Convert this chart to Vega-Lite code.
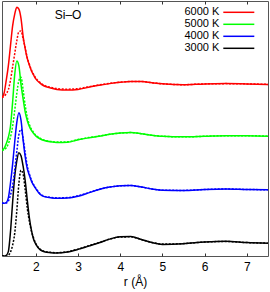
{
"$schema":"https://vega.github.io/schema/vega-lite/v6.json",
"width":266,"height":255,
"autosize":{"type":"none"},
"padding":{"left":2,"top":1,"right":2,"bottom":36},
"config":{"view":{"stroke":"#555","strokeWidth":1},"font":"Liberation Sans",
"axis":{"labelFont":"Liberation Sans","titleFont":"Liberation Sans","labelFontSize":12,"titleFontSize":12,"titleFontWeight":"normal","labelColor":"#000","titleColor":"#000","tickColor":"#333","tickWidth":1,"domain":false,"grid":false}},
"data":{"values":[
{"T":"3000 K","set":"A","r":1.2,"y":0},{"T":"3000 K","set":"A","r":1.25,"y":0},{"T":"3000 K","set":"A","r":1.3,"y":0.05},{"T":"3000 K","set":"A","r":1.35,"y":0.33},{"T":"3000 K","set":"A","r":1.4,"y":1.8},{"T":"3000 K","set":"A","r":1.45,"y":4.0},{"T":"3000 K","set":"A","r":1.5,"y":6.0},{"T":"3000 K","set":"A","r":1.55,"y":7.2},{"T":"3000 K","set":"A","r":1.6,"y":7.83},{"T":"3000 K","set":"A","r":1.65,"y":7.6},{"T":"3000 K","set":"A","r":1.7,"y":6.8},{"T":"3000 K","set":"A","r":1.75,"y":5.7},{"T":"3000 K","set":"A","r":1.8,"y":4.2},{"T":"3000 K","set":"A","r":1.85,"y":2.85},{"T":"3000 K","set":"A","r":1.9,"y":1.9},{"T":"3000 K","set":"A","r":1.95,"y":1.25},{"T":"3000 K","set":"A","r":2.0,"y":0.9},{"T":"3000 K","set":"A","r":2.1,"y":0.48},{"T":"3000 K","set":"A","r":2.2,"y":0.32},{"T":"3000 K","set":"A","r":2.35,"y":0.25},{"T":"3000 K","set":"A","r":2.5,"y":0.22},{"T":"3000 K","set":"A","r":2.75,"y":0.3},{"T":"3000 K","set":"A","r":3.0,"y":0.5},{"T":"3000 K","set":"A","r":3.25,"y":0.75},{"T":"3000 K","set":"A","r":3.5,"y":1.0},{"T":"3000 K","set":"A","r":3.75,"y":1.28},{"T":"3000 K","set":"A","r":4.0,"y":1.46},{"T":"3000 K","set":"A","r":4.25,"y":1.48},{"T":"3000 K","set":"A","r":4.5,"y":1.25},{"T":"3000 K","set":"A","r":4.75,"y":1.02},{"T":"3000 K","set":"A","r":5.0,"y":0.88},{"T":"3000 K","set":"A","r":5.5,"y":0.93},{"T":"3000 K","set":"A","r":6.0,"y":1.06},{"T":"3000 K","set":"A","r":6.5,"y":1.12},{"T":"3000 K","set":"A","r":7.0,"y":1.02},{"T":"3000 K","set":"A","r":7.5,"y":0.96},
{"T":"3000 K","set":"B","r":1.2,"y":0},{"T":"3000 K","set":"B","r":1.25,"y":0},{"T":"3000 K","set":"B","r":1.3,"y":0},{"T":"3000 K","set":"B","r":1.35,"y":0.05},{"T":"3000 K","set":"B","r":1.4,"y":0.3},{"T":"3000 K","set":"B","r":1.45,"y":0.8},{"T":"3000 K","set":"B","r":1.5,"y":1.7},{"T":"3000 K","set":"B","r":1.55,"y":3.4},{"T":"3000 K","set":"B","r":1.6,"y":5.5},{"T":"3000 K","set":"B","r":1.65,"y":6.5},{"T":"3000 K","set":"B","r":1.7,"y":6.2},{"T":"3000 K","set":"B","r":1.75,"y":5.0},{"T":"3000 K","set":"B","r":1.8,"y":3.6},{"T":"3000 K","set":"B","r":1.85,"y":2.6},{"T":"3000 K","set":"B","r":1.9,"y":1.85},{"T":"3000 K","set":"B","r":1.95,"y":1.35},{"T":"3000 K","set":"B","r":2.0,"y":0.95},{"T":"3000 K","set":"B","r":2.1,"y":0.52},{"T":"3000 K","set":"B","r":2.2,"y":0.35},{"T":"3000 K","set":"B","r":2.35,"y":0.28},{"T":"3000 K","set":"B","r":2.5,"y":0.25},{"T":"3000 K","set":"B","r":2.75,"y":0.33},{"T":"3000 K","set":"B","r":3.0,"y":0.52},{"T":"3000 K","set":"B","r":3.25,"y":0.77},{"T":"3000 K","set":"B","r":3.5,"y":1.02},{"T":"3000 K","set":"B","r":3.75,"y":1.28},{"T":"3000 K","set":"B","r":4.0,"y":1.44},{"T":"3000 K","set":"B","r":4.25,"y":1.45},{"T":"3000 K","set":"B","r":4.5,"y":1.25},{"T":"3000 K","set":"B","r":4.75,"y":1.03},{"T":"3000 K","set":"B","r":5.0,"y":0.9},{"T":"3000 K","set":"B","r":5.5,"y":0.94},{"T":"3000 K","set":"B","r":6.0,"y":1.06},{"T":"3000 K","set":"B","r":6.5,"y":1.1},{"T":"3000 K","set":"B","r":7.0,"y":1.02},{"T":"3000 K","set":"B","r":7.5,"y":0.97},
{"T":"4000 K","set":"A","r":1.2,"y":4},{"T":"4000 K","set":"A","r":1.25,"y":4},{"T":"4000 K","set":"A","r":1.3,"y":4.05},{"T":"4000 K","set":"A","r":1.35,"y":4.4},{"T":"4000 K","set":"A","r":1.4,"y":5.5},{"T":"4000 K","set":"A","r":1.45,"y":6.9},{"T":"4000 K","set":"A","r":1.5,"y":8.6},{"T":"4000 K","set":"A","r":1.55,"y":10.1},{"T":"4000 K","set":"A","r":1.6,"y":10.85},{"T":"4000 K","set":"A","r":1.65,"y":10.3},{"T":"4000 K","set":"A","r":1.7,"y":8.8},{"T":"4000 K","set":"A","r":1.75,"y":7.5},{"T":"4000 K","set":"A","r":1.8,"y":6.6},{"T":"4000 K","set":"A","r":1.85,"y":6.1},{"T":"4000 K","set":"A","r":1.9,"y":5.65},{"T":"4000 K","set":"A","r":1.95,"y":5.35},{"T":"4000 K","set":"A","r":2.0,"y":5.1},{"T":"4000 K","set":"A","r":2.1,"y":4.68},{"T":"4000 K","set":"A","r":2.2,"y":4.5},{"T":"4000 K","set":"A","r":2.35,"y":4.42},{"T":"4000 K","set":"A","r":2.5,"y":4.38},{"T":"4000 K","set":"A","r":2.75,"y":4.4},{"T":"4000 K","set":"A","r":3.0,"y":4.53},{"T":"4000 K","set":"A","r":3.25,"y":4.78},{"T":"4000 K","set":"A","r":3.5,"y":5.04},{"T":"4000 K","set":"A","r":3.75,"y":5.22},{"T":"4000 K","set":"A","r":4.0,"y":5.33},{"T":"4000 K","set":"A","r":4.25,"y":5.35},{"T":"4000 K","set":"A","r":4.5,"y":5.23},{"T":"4000 K","set":"A","r":4.75,"y":5.08},{"T":"4000 K","set":"A","r":5.0,"y":4.98},{"T":"4000 K","set":"A","r":5.5,"y":4.96},{"T":"4000 K","set":"A","r":6.0,"y":5.04},{"T":"4000 K","set":"A","r":6.5,"y":5.08},{"T":"4000 K","set":"A","r":7.0,"y":5.04},{"T":"4000 K","set":"A","r":7.5,"y":5.02},
{"T":"4000 K","set":"B","r":1.2,"y":4},{"T":"4000 K","set":"B","r":1.25,"y":4},{"T":"4000 K","set":"B","r":1.3,"y":4.02},{"T":"4000 K","set":"B","r":1.35,"y":4.15},{"T":"4000 K","set":"B","r":1.4,"y":4.6},{"T":"4000 K","set":"B","r":1.45,"y":5.3},{"T":"4000 K","set":"B","r":1.5,"y":6.5},{"T":"4000 K","set":"B","r":1.55,"y":7.9},{"T":"4000 K","set":"B","r":1.6,"y":9.2},{"T":"4000 K","set":"B","r":1.65,"y":9.6},{"T":"4000 K","set":"B","r":1.7,"y":8.9},{"T":"4000 K","set":"B","r":1.75,"y":7.8},{"T":"4000 K","set":"B","r":1.8,"y":6.8},{"T":"4000 K","set":"B","r":1.85,"y":6.2},{"T":"4000 K","set":"B","r":1.9,"y":5.72},{"T":"4000 K","set":"B","r":1.95,"y":5.4},{"T":"4000 K","set":"B","r":2.0,"y":5.14},{"T":"4000 K","set":"B","r":2.1,"y":4.72},{"T":"4000 K","set":"B","r":2.2,"y":4.53},{"T":"4000 K","set":"B","r":2.35,"y":4.44},{"T":"4000 K","set":"B","r":2.5,"y":4.4},{"T":"4000 K","set":"B","r":2.75,"y":4.43},{"T":"4000 K","set":"B","r":3.0,"y":4.56},{"T":"4000 K","set":"B","r":3.25,"y":4.8},{"T":"4000 K","set":"B","r":3.5,"y":5.05},{"T":"4000 K","set":"B","r":3.75,"y":5.22},{"T":"4000 K","set":"B","r":4.0,"y":5.32},{"T":"4000 K","set":"B","r":4.25,"y":5.34},{"T":"4000 K","set":"B","r":4.5,"y":5.23},{"T":"4000 K","set":"B","r":4.75,"y":5.08},{"T":"4000 K","set":"B","r":5.0,"y":4.99},{"T":"4000 K","set":"B","r":5.5,"y":4.97},{"T":"4000 K","set":"B","r":6.0,"y":5.04},{"T":"4000 K","set":"B","r":6.5,"y":5.08},{"T":"4000 K","set":"B","r":7.0,"y":5.04},{"T":"4000 K","set":"B","r":7.5,"y":5.02},
{"T":"5000 K","set":"A","r":1.2,"y":8},{"T":"5000 K","set":"A","r":1.25,"y":8.15},{"T":"5000 K","set":"A","r":1.3,"y":8.5},{"T":"5000 K","set":"A","r":1.35,"y":9.0},{"T":"5000 K","set":"A","r":1.4,"y":9.8},{"T":"5000 K","set":"A","r":1.45,"y":11.6},{"T":"5000 K","set":"A","r":1.5,"y":13.7},{"T":"5000 K","set":"A","r":1.55,"y":14.77},{"T":"5000 K","set":"A","r":1.6,"y":14.4},{"T":"5000 K","set":"A","r":1.65,"y":13.0},{"T":"5000 K","set":"A","r":1.7,"y":11.9},{"T":"5000 K","set":"A","r":1.75,"y":10.9},{"T":"5000 K","set":"A","r":1.8,"y":10.25},{"T":"5000 K","set":"A","r":1.85,"y":9.8},{"T":"5000 K","set":"A","r":1.9,"y":9.5},{"T":"5000 K","set":"A","r":1.95,"y":9.28},{"T":"5000 K","set":"A","r":2.0,"y":9.1},{"T":"5000 K","set":"A","r":2.1,"y":8.88},{"T":"5000 K","set":"A","r":2.2,"y":8.75},{"T":"5000 K","set":"A","r":2.35,"y":8.65},{"T":"5000 K","set":"A","r":2.5,"y":8.6},{"T":"5000 K","set":"A","r":2.75,"y":8.62},{"T":"5000 K","set":"A","r":3.0,"y":8.8},{"T":"5000 K","set":"A","r":3.25,"y":8.95},{"T":"5000 K","set":"A","r":3.5,"y":9.08},{"T":"5000 K","set":"A","r":3.75,"y":9.22},{"T":"5000 K","set":"A","r":4.0,"y":9.32},{"T":"5000 K","set":"A","r":4.25,"y":9.36},{"T":"5000 K","set":"A","r":4.5,"y":9.27},{"T":"5000 K","set":"A","r":4.75,"y":9.15},{"T":"5000 K","set":"A","r":5.0,"y":9.07},{"T":"5000 K","set":"A","r":5.5,"y":9.03},{"T":"5000 K","set":"A","r":6.0,"y":9.07},{"T":"5000 K","set":"A","r":6.5,"y":9.12},{"T":"5000 K","set":"A","r":7.0,"y":9.12},{"T":"5000 K","set":"A","r":7.5,"y":9.08},
{"T":"5000 K","set":"B","r":1.2,"y":8},{"T":"5000 K","set":"B","r":1.25,"y":8.05},{"T":"5000 K","set":"B","r":1.3,"y":8.2},{"T":"5000 K","set":"B","r":1.35,"y":8.5},{"T":"5000 K","set":"B","r":1.4,"y":9.0},{"T":"5000 K","set":"B","r":1.45,"y":9.8},{"T":"5000 K","set":"B","r":1.5,"y":11.0},{"T":"5000 K","set":"B","r":1.55,"y":12.3},{"T":"5000 K","set":"B","r":1.6,"y":13.3},{"T":"5000 K","set":"B","r":1.65,"y":13.55},{"T":"5000 K","set":"B","r":1.7,"y":12.6},{"T":"5000 K","set":"B","r":1.75,"y":11.4},{"T":"5000 K","set":"B","r":1.8,"y":10.5},{"T":"5000 K","set":"B","r":1.85,"y":9.95},{"T":"5000 K","set":"B","r":1.9,"y":9.6},{"T":"5000 K","set":"B","r":1.95,"y":9.35},{"T":"5000 K","set":"B","r":2.0,"y":9.15},{"T":"5000 K","set":"B","r":2.1,"y":8.93},{"T":"5000 K","set":"B","r":2.2,"y":8.78},{"T":"5000 K","set":"B","r":2.35,"y":8.68},{"T":"5000 K","set":"B","r":2.5,"y":8.63},{"T":"5000 K","set":"B","r":2.75,"y":8.65},{"T":"5000 K","set":"B","r":3.0,"y":8.82},{"T":"5000 K","set":"B","r":3.25,"y":8.97},{"T":"5000 K","set":"B","r":3.5,"y":9.09},{"T":"5000 K","set":"B","r":3.75,"y":9.22},{"T":"5000 K","set":"B","r":4.0,"y":9.31},{"T":"5000 K","set":"B","r":4.25,"y":9.35},{"T":"5000 K","set":"B","r":4.5,"y":9.27},{"T":"5000 K","set":"B","r":4.75,"y":9.15},{"T":"5000 K","set":"B","r":5.0,"y":9.07},{"T":"5000 K","set":"B","r":5.5,"y":9.03},{"T":"5000 K","set":"B","r":6.0,"y":9.07},{"T":"5000 K","set":"B","r":6.5,"y":9.12},{"T":"5000 K","set":"B","r":7.0,"y":9.12},{"T":"5000 K","set":"B","r":7.5,"y":9.08},
{"T":"6000 K","set":"A","r":1.2,"y":12},{"T":"6000 K","set":"A","r":1.25,"y":12.35},{"T":"6000 K","set":"A","r":1.3,"y":13.3},{"T":"6000 K","set":"A","r":1.35,"y":14.4},{"T":"6000 K","set":"A","r":1.4,"y":15.9},{"T":"6000 K","set":"A","r":1.45,"y":17.4},{"T":"6000 K","set":"A","r":1.5,"y":18.3},{"T":"6000 K","set":"A","r":1.55,"y":18.85},{"T":"6000 K","set":"A","r":1.6,"y":18.7},{"T":"6000 K","set":"A","r":1.65,"y":18.0},{"T":"6000 K","set":"A","r":1.7,"y":16.65},{"T":"6000 K","set":"A","r":1.75,"y":15.7},{"T":"6000 K","set":"A","r":1.8,"y":14.95},{"T":"6000 K","set":"A","r":1.85,"y":14.45},{"T":"6000 K","set":"A","r":1.9,"y":14.0},{"T":"6000 K","set":"A","r":1.95,"y":13.7},{"T":"6000 K","set":"A","r":2.0,"y":13.42},{"T":"6000 K","set":"A","r":2.1,"y":13.1},{"T":"6000 K","set":"A","r":2.2,"y":12.88},{"T":"6000 K","set":"A","r":2.35,"y":12.73},{"T":"6000 K","set":"A","r":2.5,"y":12.62},{"T":"6000 K","set":"A","r":2.75,"y":12.58},{"T":"6000 K","set":"A","r":3.0,"y":12.62},{"T":"6000 K","set":"A","r":3.25,"y":12.78},{"T":"6000 K","set":"A","r":3.5,"y":12.93},{"T":"6000 K","set":"A","r":3.75,"y":13.06},{"T":"6000 K","set":"A","r":4.0,"y":13.16},{"T":"6000 K","set":"A","r":4.25,"y":13.22},{"T":"6000 K","set":"A","r":4.5,"y":13.22},{"T":"6000 K","set":"A","r":4.75,"y":13.13},{"T":"6000 K","set":"A","r":5.0,"y":13.05},{"T":"6000 K","set":"A","r":5.5,"y":12.98},{"T":"6000 K","set":"A","r":6.0,"y":13.04},{"T":"6000 K","set":"A","r":6.5,"y":13.06},{"T":"6000 K","set":"A","r":7.0,"y":13.04},{"T":"6000 K","set":"A","r":7.5,"y":13.0},
{"T":"6000 K","set":"B","r":1.2,"y":12},{"T":"6000 K","set":"B","r":1.25,"y":12.1},{"T":"6000 K","set":"B","r":1.3,"y":12.3},{"T":"6000 K","set":"B","r":1.35,"y":12.6},{"T":"6000 K","set":"B","r":1.4,"y":13.3},{"T":"6000 K","set":"B","r":1.45,"y":14.3},{"T":"6000 K","set":"B","r":1.5,"y":15.3},{"T":"6000 K","set":"B","r":1.55,"y":16.3},{"T":"6000 K","set":"B","r":1.6,"y":17.0},{"T":"6000 K","set":"B","r":1.65,"y":17.05},{"T":"6000 K","set":"B","r":1.7,"y":16.45},{"T":"6000 K","set":"B","r":1.75,"y":15.75},{"T":"6000 K","set":"B","r":1.8,"y":15.0},{"T":"6000 K","set":"B","r":1.85,"y":14.5},{"T":"6000 K","set":"B","r":1.9,"y":14.07},{"T":"6000 K","set":"B","r":1.95,"y":13.75},{"T":"6000 K","set":"B","r":2.0,"y":13.48},{"T":"6000 K","set":"B","r":2.1,"y":13.15},{"T":"6000 K","set":"B","r":2.2,"y":12.93},{"T":"6000 K","set":"B","r":2.35,"y":12.78},{"T":"6000 K","set":"B","r":2.5,"y":12.68},{"T":"6000 K","set":"B","r":2.75,"y":12.64},{"T":"6000 K","set":"B","r":3.0,"y":12.68},{"T":"6000 K","set":"B","r":3.25,"y":12.82},{"T":"6000 K","set":"B","r":3.5,"y":12.96},{"T":"6000 K","set":"B","r":3.75,"y":13.08},{"T":"6000 K","set":"B","r":4.0,"y":13.17},{"T":"6000 K","set":"B","r":4.25,"y":13.22},{"T":"6000 K","set":"B","r":4.5,"y":13.22},{"T":"6000 K","set":"B","r":4.75,"y":13.13},{"T":"6000 K","set":"B","r":5.0,"y":13.05},{"T":"6000 K","set":"B","r":5.5,"y":12.98},{"T":"6000 K","set":"B","r":6.0,"y":13.04},{"T":"6000 K","set":"B","r":6.5,"y":13.06},{"T":"6000 K","set":"B","r":7.0,"y":13.04},{"T":"6000 K","set":"B","r":7.5,"y":13.0}
]},
"layer":[
{"transform":[{"filter":"datum.set === 'A'"}],
"mark":{"type":"line","strokeWidth":1.5,"interpolate":"monotone","clip":true},
"encoding":{
"x":{"field":"r","type":"quantitative","scale":{"domain":[1.2,7.5],"nice":false,"zero":false},
"axis":{"orient":"bottom","values":[2,3,4,5,6,7],"tickSize":-3,"labelPadding":8,"title":"r (Å)","titlePadding":4}},
"y":{"field":"y","type":"quantitative","scale":{"domain":[0,19.32],"nice":false,"zero":false},"axis":null},
"color":{"field":"T","type":"nominal","scale":{"domain":["6000 K","5000 K","4000 K","3000 K"],"range":["#ff0000","#00ff00","#0000ff","#000000"]},
"legend":{"title":null,"orient":"none","legendX":212.3,"legendY":5.8,"direction":"vertical","padding":0,"symbolType":"M3.5,0H34.5","symbolSize":4,"symbolStrokeWidth":1.5,"labelAlign":"right","labelOffset":-6,"labelFontSize":11,"labelFont":"Liberation Sans","labelColor":"#000","rowPadding":0}},
"detail":{"field":"set"}}},
{"transform":[{"filter":"datum.set === 'B'"}],
"mark":{"type":"line","strokeWidth":1.5,"strokeDash":[2,1.5],"interpolate":"monotone","clip":true},
"encoding":{
"x":{"field":"r","type":"quantitative","axis":{"orient":"top","values":[2,3,4,5,6,7],"tickSize":-3,"labels":false,"title":null}},
"y":{"field":"y","type":"quantitative","axis":null},
"color":{"field":"T","type":"nominal","legend":null}}},
{"data":{"values":[{"label":"Si–O"}]},
"mark":{"type":"text","align":"left","baseline":"middle","fontSize":12,"font":"Liberation Sans","color":"#000"},
"encoding":{
"text":{"field":"label"},
"x":{"datum":2.45,"type":"quantitative","axis":null},
"y":{"datum":18.26,"type":"quantitative","axis":null}}}
],
"resolve":{"axis":{"x":"independent"}}
}
